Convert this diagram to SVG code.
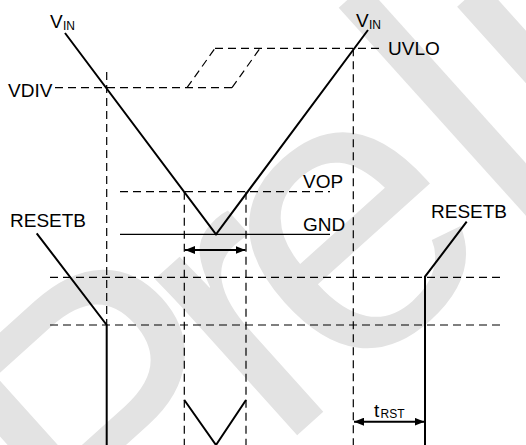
<svg xmlns="http://www.w3.org/2000/svg" width="526" height="445" viewBox="0 0 526 445">
<defs>
<style>
.lbl{font-family:"Liberation Sans",Arial,sans-serif;font-size:19px;fill:#000}
.sub{font-family:"Liberation Sans",Arial,sans-serif;font-size:12px;fill:#000}
.dash{fill:none;stroke:#000;stroke-width:1.2;stroke-dasharray:8 5}
.sig{fill:none;stroke:#000;stroke-width:2}
.thin{fill:none;stroke:#000;stroke-width:1.2}
.wm{font-family:"Liberation Sans",Arial,sans-serif;font-size:400px;fill:#e3e3e3}
</style>
<marker id="ah" viewBox="0 0 10 8" refX="10" refY="4" markerWidth="10" markerHeight="8" markerUnits="userSpaceOnUse" orient="auto-start-reverse">
<path d="M0,0 L10,4 L0,8 Z" fill="#000"/>
</marker>
</defs>
<rect width="526" height="445" fill="#fff"/>
<text class="wm" transform="translate(108,605.5) rotate(-42)" dx="0 -40 -43 5">Preliminary</text>

<g id="connectors">
<path class="dash" d="M55,87.7 H232"/>
<path class="dash" d="M215,48.3 H380"/>
<path class="dash" d="M187,87.7 L215,48.3"/>
<path class="dash" d="M232,87.7 L260,48.3"/>
<path class="dash" d="M120,191.7 H330"/>
<path class="dash" d="M50,277.3 H500"/>
<path class="dash" d="M50,325 H500"/>
<path class="dash" d="M106.7,72 V325"/>
<path class="dash" d="M184.3,191.7 V445"/>
<path class="dash" d="M246,191.7 V445"/>
<path class="dash" d="M353.3,48.3 V445"/>
<path class="thin" d="M120,234.3 H330"/>
<path class="sig" d="M185,250 H245.5" marker-start="url(#ah)" marker-end="url(#ah)"/>
<path class="sig" d="M354,421.7 H424.5" marker-start="url(#ah)" marker-end="url(#ah)"/>
</g>

<g id="vin">
<path class="sig" d="M65,33 L216,234.3 L368,30"/>
<text class="lbl" x="50" y="28">V</text><text class="sub" x="63" y="30">IN</text>
<text class="lbl" x="356" y="27">V</text><text class="sub" x="369" y="29">IN</text>
</g>
<g id="vdiv"><text class="lbl" x="8" y="97">VDIV</text></g>
<g id="uvlo"><text class="lbl" x="388" y="55">UVLO</text></g>
<g id="vop"><text class="lbl" x="303" y="188">VOP</text></g>
<g id="gnd"><text class="lbl" x="303" y="231">GND</text></g>
<g id="resetb-left">
<path class="sig" d="M36.7,233.3 L106.7,325 V445"/>
<text class="lbl" x="10" y="227">RESETB</text>
</g>
<g id="resetb-right">
<path class="sig" d="M466.7,221.7 L425,276.7 V445"/>
<text class="lbl" x="431" y="218">RESETB</text>
</g>
<g id="vin-low">
<path class="sig" d="M184.3,400 L216,445 L246,400"/>
</g>
<g id="trst">
<text class="lbl" x="374" y="416.7">t</text><text class="sub" x="380.5" y="417.5">RST</text>
</g>
</svg>
